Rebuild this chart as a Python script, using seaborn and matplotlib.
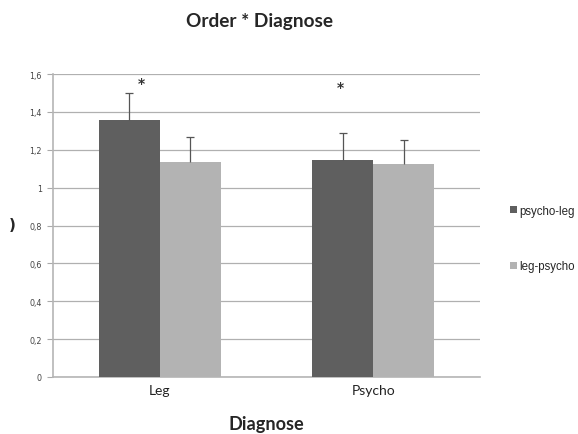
import matplotlib
matplotlib.use("Agg")
import matplotlib.pyplot as plt
import seaborn as sns
import pandas as pd
import numpy as np
from matplotlib.patches import Patch

diagnoses = ["Leg", "Psycho"]
orders = ["psycho-leg", "leg-psycho"]
means_psycho_leg = [1.358, 1.147]
means_leg_psycho = [1.135, 1.123]
err_psycho_leg = [0.140, 0.140]
err_leg_psycho = [0.131, 0.130]
yticks = [0, 0.2, 0.4, 0.6, 0.8, 1.0, 1.2, 1.4, 1.6]
ytick_labels = ["0", "0,2", "0,4", "0,6", "0,8", "1", "1,2", "1,4", "1,6"]
star_positions = [(-0.088, 1.552), (0.844, 1.531)]

colors = ["#5f5f5f", "#b3b3b3"]

df = pd.DataFrame({
    "Diagnose": diagnoses * 2,
    "Order": [orders[0]] * 2 + [orders[1]] * 2,
    "mean": means_psycho_leg + means_leg_psycho,
    "err": err_psycho_leg + err_leg_psycho,
})

sns.set_style("white")
plt.rcParams["font.family"] = ["Lato", "DejaVu Sans"]

fig = plt.figure(figsize=(5.78, 4.35), dpi=100)
ax = fig.add_axes([53/578, 57/435, 427/578, 303/435])

sns.barplot(data=df, x="Diagnose", y="mean", hue="Order", order=diagnoses,
            hue_order=orders, palette=colors, width=0.57, errorbar=None,
            ax=ax, saturation=1, legend=False, zorder=3, linewidth=0)

# error bars (upward only)
for i, order in enumerate(orders):
    sub = df[df["Order"] == order].set_index("Diagnose").loc[diagnoses]
    offs = (i - 0.5) * 0.57 / 2
    xs = np.arange(len(diagnoses)) + offs
    eb = ax.errorbar(xs, sub["mean"], yerr=[np.zeros(len(xs)), sub["err"]],
                     fmt="none", ecolor="#555555", elinewidth=0.9, capsize=3,
                     capthick=0.9, zorder=4)
    caps = eb.lines[1]
    if len(caps) == 2:
        caps[0].set_visible(False)

ax.set_xlim(-0.5, 1.5)
ax.set_ylim(0, 1.6)
ax.set_yticks(yticks)
ax.set_yticklabels(ytick_labels, fontsize=5.8, color="#444444", family="DejaVu Sans")
ax.yaxis.grid(True, color="#b0b0b0", linewidth=0.9, zorder=0)
ax.set_axisbelow(True)

ax.set_xticks([0, 1])
ax.set_xticklabels(diagnoses, fontsize=10, color="#222222")
ax.tick_params(axis="x", length=0, pad=5)
ax.set_xticks([-0.5, 0.5, 1.5], minor=True)
ax.tick_params(axis="x", which="minor", length=4, color="#aaaaaa", direction="out")
ax.tick_params(axis="y", length=4, color="#aaaaaa", direction="out", left=True, pad=4)

for s in ["top", "right"]:
    ax.spines[s].set_visible(False)
for s in ["left", "bottom"]:
    ax.spines[s].set_color("#b5b5b5")
    ax.spines[s].set_linewidth(1.2)

ax.set_xlabel("Diagnose", fontsize=13.1, fontweight="bold", labelpad=14)
ax.set_ylabel("")

for (sx, sy) in star_positions:
    ax.text(sx, sy, "*", fontsize=10, fontweight="bold", ha="center", va="center",
            color="#333333", family="DejaVu Sans")

fig.text(259/578, 1 - 22/435, "Order * Diagnose", fontsize=13.7, fontweight="bold",
         ha="center", va="center")
fig.text(12/578, 1 - 226/435, ")", fontsize=11, fontweight="bold",
         ha="center", va="center", family="DejaVu Sans")

# legend
handles = [Patch(facecolor=c, edgecolor="none") for c in colors]
leg = fig.legend(handles, orders, loc="center left", bbox_to_anchor=(0.864, 1 - 239.5/435),
                 frameon=False, handlelength=0.6, handleheight=0.6,
                 handletextpad=0.2, labelspacing=3.8,
                 prop={"family": "Liberation Sans", "size": 8.3})

fig.savefig("out.png", dpi=100)
